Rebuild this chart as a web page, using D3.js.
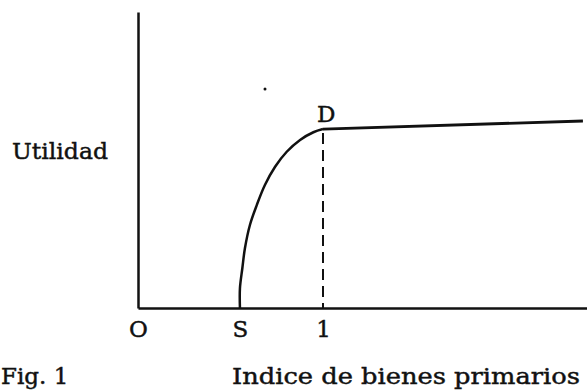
<!DOCTYPE html>
<head>
  <meta charset="utf-8">
  <script src="https://cdn.jsdelivr.net/npm/d3@7"></script>
  <style>
    body { margin: 0; background: #fff; }
    svg text { font-family: "DejaVu Serif", serif; fill: #111; stroke: #111; stroke-width: 0.45; }
  </style>
</head>
<body>
<svg width="587" height="391"></svg>
<script>
// tick positions along the primary goods index
var tickValues = [0, 0.551, 1]
  , tickLabels = ['O', 'S', '1']

// utility curve from S up to D
var curveX = [0.551, 0.551, 0.564, 0.578, 0.605, 0.642, 0.686, 0.741, 0.804, 0.876, 0.948, 1.0]
  , curveY = [0, 0.110, 0.222, 0.334, 0.464, 0.575, 0.687, 0.789, 0.873, 0.939, 0.982, 1.0]

// nearly flat part after D
var flatX = [1.0, 2.405]
  , flatY = [1.0, 1.045]

var svg = d3.select('svg')

var x = d3.scaleLinear().domain([0, 2.427]).range([138, 587])
  , y = d3.scaleLinear().domain([0, 1.654]).range([308, 12])

var xAxis = svg.append('g')
  .attr('transform', 'translate(0,' + y(0) + ')')
  .call(d3.axisBottom(x).tickValues(tickValues)
        .tickFormat(function (d, i) { return tickLabels[i] })
        .tickSize(0).tickPadding(7))

xAxis.select('.domain').attr('stroke', '#111').attr('stroke-width', 2.5)
xAxis.selectAll('text')
  .attr('font-family', '"DejaVu Serif", serif')
  .attr('font-size', 23)
  .attr('dy', '0.95em')
  .attr('fill', '#111')

var yAxis = svg.append('g')
  .attr('transform', 'translate(' + x(0) + ',0)')
  .call(d3.axisLeft(y).tickValues([]).tickSizeOuter(0))

yAxis.select('.domain').attr('stroke', '#111').attr('stroke-width', 2.5)

var line = d3.line()
  .x(function (d) { return x(d[0]) })
  .y(function (d) { return y(d[1]) })

svg.append('path')
  .datum(d3.zip(curveX, curveY))
  .attr('d', line.curve(d3.curveCatmullRom))
  .attr('fill', 'none')
  .attr('stroke', '#111')
  .attr('stroke-width', 2.5)

svg.append('path')
  .datum(d3.zip(flatX, flatY))
  .attr('d', line.curve(d3.curveLinear))
  .attr('fill', 'none')
  .attr('stroke', '#111')
  .attr('stroke-width', 2.8)

// dashed drop line from D to the axis
svg.append('line')
  .attr('x1', x(1)).attr('x2', x(1))
  .attr('y1', y(1) + 4).attr('y2', y(0))
  .attr('stroke', '#111')
  .attr('stroke-width', 2)
  .attr('stroke-dasharray', '11,6')

svg.append('text')
  .attr('x', x(1) - 6).attr('y', y(1) - 7)
  .attr('font-size', 23)
  .text('D')

// stray speck from the print
svg.append('circle')
  .attr('cx', 265).attr('cy', 89).attr('r', 1.5)
  .attr('fill', '#111')

svg.append('text')
  .attr('x', 12).attr('y', 159)
  .attr('font-size', 23)
  .attr('textLength', 96)
  .attr('lengthAdjust', 'spacingAndGlyphs')
  .text('Utilidad')

svg.append('text')
  .attr('x', 1).attr('y', 384)
  .attr('font-size', 23)
  .text('Fig. 1')

svg.append('text')
  .attr('x', 232).attr('y', 384)
  .attr('font-size', 23)
  .attr('textLength', 348)
  .attr('lengthAdjust', 'spacingAndGlyphs')
  .text('Indice de bienes primarios')
</script>
</body>
